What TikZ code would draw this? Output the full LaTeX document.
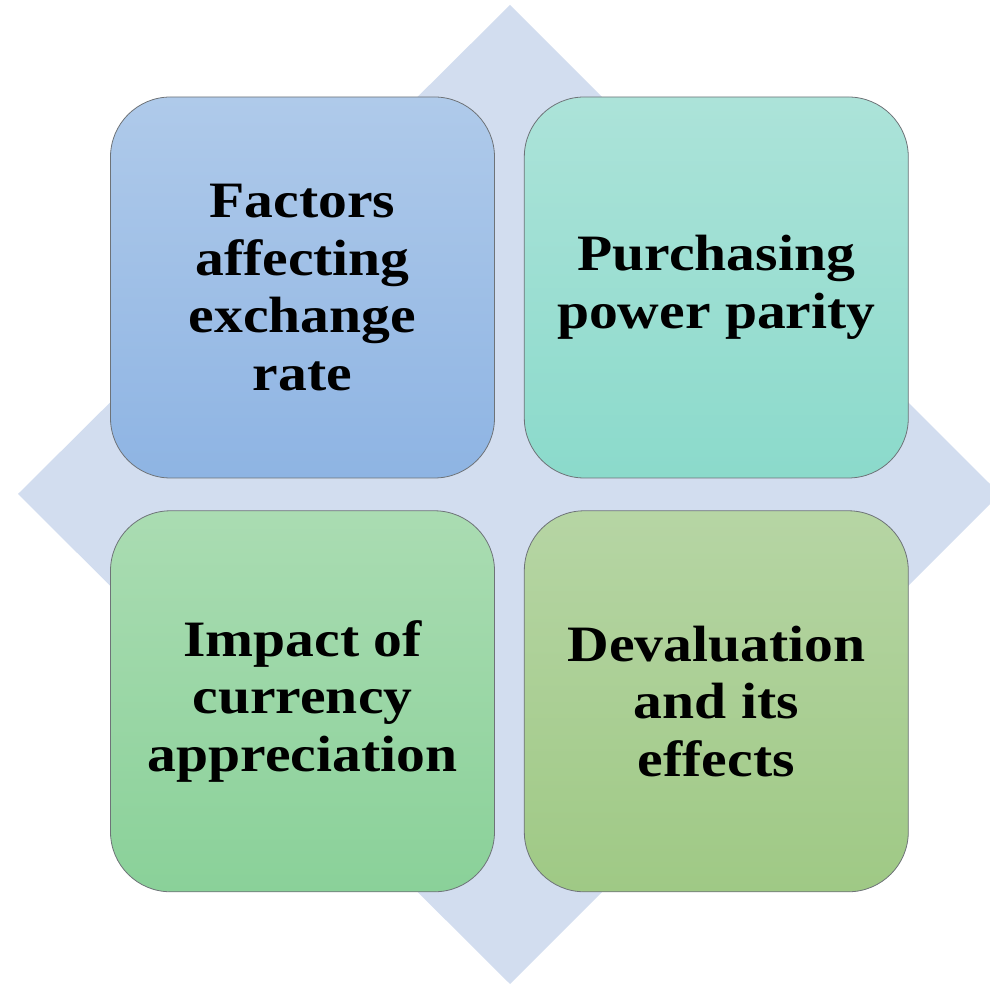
\documentclass[tikz,border=0pt]{standalone}
\usepackage{fontspec}
\setmainfont{Liberation Serif}[FakeStretch=1.13]
\usepackage{tikz}
\usetikzlibrary{positioning}
\definecolor{diamondblue}{HTML}{D2DDEF}
\definecolor{tilegray}{HTML}{6E7378}
\definecolor{factop}{HTML}{AFCAEA}
\definecolor{facbot}{HTML}{8EB4E3}
\definecolor{ppptop}{HTML}{ACE3D9}
\definecolor{pppbot}{HTML}{8BDACB}
\definecolor{imptop}{HTML}{AADCB2}
\definecolor{impbot}{HTML}{8AD199}
\definecolor{devtop}{HTML}{B6D5A4}
\definecolor{devbot}{HTML}{9FC985}
\tikzset{
  tile/.style={draw=tilegray, line width=0.8pt, rounded corners=60pt,
    minimum width=384pt, minimum height=381pt, inner sep=0pt,
    align=center, font=\fontsize{51}{57.5}\selectfont\bfseries},
}

\begin{document}
\begin{tikzpicture}[x=1pt, y=1pt]
\useasboundingbox (0,0) rectangle (990,984);
\clip (0,0) rectangle (990,984);
% background diamond
\fill[diamondblue] (510,979) -- (1000,490) -- (510,0) -- (18,490) -- cycle;
% the four tiles
\node[tile, top color=factop, bottom color=facbot] (factors) at (302.5,696.5) {Factors\\affecting\\exchange\\rate};
\node[tile, top color=ppptop, bottom color=pppbot, right=29pt of factors] (ppp) {Purchasing\\power parity};
\node[tile, top color=imptop, bottom color=impbot, below=32pt of factors] (impact) {Impact of\\currency\\appreciation};
\node[tile, top color=devtop, bottom color=devbot, below=32pt of ppp] (deval) {Devaluation\\and its\\effects};
\end{tikzpicture}
\end{document}
